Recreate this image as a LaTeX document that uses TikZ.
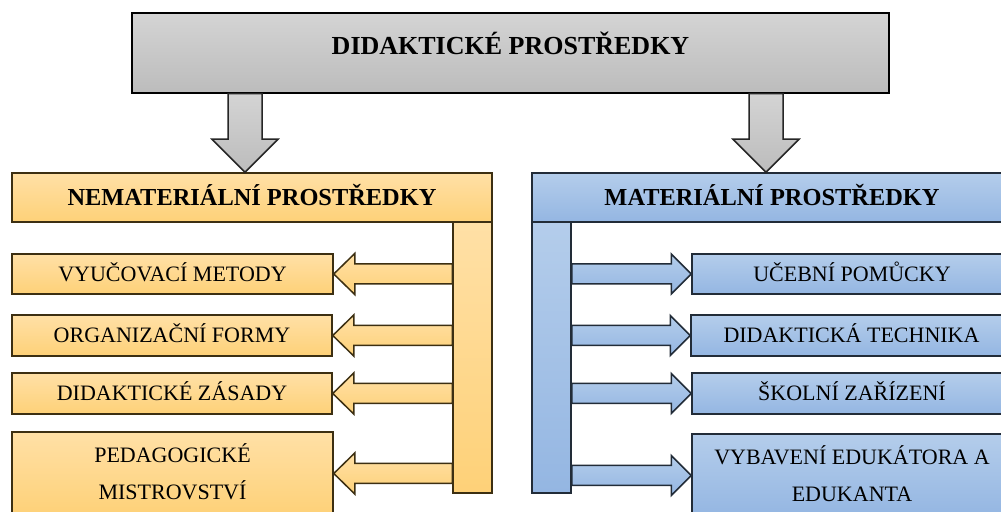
\documentclass[tikz,border=0pt]{standalone}
\usepackage{fontspec}
\setmainfont{Liberation Serif}
\usetikzlibrary{calc}
\definecolor{grayT}{HTML}{D4D4D4}
\definecolor{grayB}{HTML}{BCBCBC}
\definecolor{orT}{HTML}{FFE0A6}
\definecolor{orB}{HTML}{FED178}
\definecolor{blT}{HTML}{B4CDEB}
\definecolor{blB}{HTML}{94B6E2}
\definecolor{orLine}{HTML}{3C2F12}
\definecolor{blLine}{HTML}{222C38}
\tikzset{
  box/.style={rectangle, inner sep=0pt, line width=0.75pt, align=center},
  graybox/.style={box, draw=black, top color=grayT, bottom color=grayB},
  orbox/.style={box, draw=orLine, top color=orT, bottom color=orB},
  blbox/.style={box, draw=blLine, top color=blT, bottom color=blB},
  titlefont/.style={font=\fontsize{13}{15}\selectfont\bfseries, text height=8.6pt, text depth=7pt},
  headfont/.style={font=\fontsize{12.2}{14}\selectfont\bfseries, text height=8.1pt, text depth=0pt},
  itemfont/.style={font=\fontsize{11}{13}\selectfont, text height=7.3pt, text depth=0pt},
  twofont/.style={font=\fontsize{11}{18.5}\selectfont, text height=25.8pt, text depth=0pt},
  orarrow/.style={draw=orLine, line width=0.75pt, top color=orT, bottom color=orB},
  blarrow/.style={draw=blLine, line width=0.75pt, top color=blT, bottom color=blB},
  grarrow/.style={draw=black!85, line width=0.75pt, top color=grayT, bottom color=grayB},
}
% left-pointing block arrow: #1 style, #2 tip, #3 tail
\newcommand\blkleft[3]{%
  \path[#1] let \p1=(#2), \p2=(#3) in
    (\x1,\y1) -- (\x1+10.5pt,\y1+10.25pt) -- (\x1+10.5pt,\y1+5pt) -- (\x2,\y1+5pt)
    -- (\x2,\y1-5pt) -- (\x1+10.5pt,\y1-5pt) -- (\x1+10.5pt,\y1-10.25pt) -- cycle;}
% right-pointing block arrow: #1 style, #2 tip, #3 tail
\newcommand\blkright[3]{%
  \path[#1] let \p1=(#2), \p2=(#3) in
    (\x1,\y1) -- (\x1-10pt,\y1+10pt) -- (\x1-10pt,\y1+5pt) -- (\x2,\y1+5pt)
    -- (\x2,\y1-5pt) -- (\x1-10pt,\y1-5pt) -- (\x1-10pt,\y1-10pt) -- cycle;}
% down-pointing block arrow: #1 tip, #2 tail
\newcommand\blkdown[2]{%
  \path[grarrow] let \p1=(#1), \p2=(#2) in
    (\x1,\y1) -- (\x1-16.5pt,\y1+16.5pt) -- (\x1-8.5pt,\y1+16.5pt) -- (\x1-8.5pt,\y2)
    -- (\x1+8.5pt,\y2) -- (\x1+8.5pt,\y1+16.5pt) -- (\x1+16.5pt,\y1+16.5pt) -- cycle;}
\begin{document}
\begin{tikzpicture}[x=0.5pt,y=-0.5pt]
\useasboundingbox (0,0) rectangle (1001,512);
\clip (0,0) rectangle (1001,512);
\fill[white] (0,0) rectangle (1001,512);

% top
\node[graybox, titlefont, minimum width=378.5pt, minimum height=40pt] (top) at (510.5,53) {DIDAKTICKÉ PROSTŘEDKY};

% bars
\node[orbox, minimum width=19.5pt, minimum height=135.5pt] (barl) at (472.5,357.5) {};
\node[blbox, minimum width=19.5pt, minimum height=135.5pt] (barr) at (551.5,357.5) {};

% headers
\node[orbox, headfont, minimum width=240pt, minimum height=24.5pt] (hl) at (252,197.5) {NEMATERIÁLNÍ PROSTŘEDKY};
\node[blbox, headfont, minimum width=240pt, minimum height=24.5pt] (hr) at (772,197.5) {MATERIÁLNÍ PROSTŘEDKY};

% left items
\node[orbox, itemfont, minimum width=160.5pt, minimum height=20pt] (l1) at (172.5,274) {VYUČOVACÍ METODY};
\node[orbox, itemfont, minimum width=160pt, minimum height=20.5pt] (l2) at (172,335.5) {ORGANIZAČNÍ FORMY};
\node[orbox, itemfont, minimum width=160pt, minimum height=20.5pt] (l3) at (172,393.5) {DIDAKTICKÉ ZÁSADY};
\node[orbox, twofont, minimum width=160.5pt, minimum height=41.5pt] (l4) at (172.5,473.5) {PEDAGOGICKÉ\\MISTROVSTVÍ};

% right items
\node[blbox, itemfont, minimum width=160pt, minimum height=20pt] (r1) at (852,274) {UČEBNÍ POMŮCKY};
\node[blbox, itemfont, minimum width=160.5pt, minimum height=20.5pt] (r2) at (851.5,335.5) {DIDAKTICKÁ TECHNIKA};
\node[blbox, itemfont, minimum width=160pt, minimum height=20.5pt] (r3) at (852,393.5) {ŠKOLNÍ ZAŘÍZENÍ};
\node[blbox, twofont, minimum width=160pt, minimum height=41.5pt] (r4) at (852,475.5) {VYBAVENÍ EDUKÁTORA A\\EDUKANTA};

% down arrows
\coordinate (dl) at (245,0);
\coordinate (dr) at (766,0);
\blkdown{dl |- hl.north}{dl |- top.south}
\blkdown{dr |- hr.north}{dr |- top.south}

% left arrows
\blkleft{orarrow}{l1.east}{barl.west |- l1.east}
\blkleft{orarrow}{l2.east}{barl.west |- l2.east}
\blkleft{orarrow}{l3.east}{barl.west |- l3.east}
\blkleft{orarrow}{l4.east}{barl.west |- l4.east}

% right arrows
\blkright{blarrow}{r1.west}{barr.east |- r1.west}
\blkright{blarrow}{r2.west}{barr.east |- r2.west}
\blkright{blarrow}{r3.west}{barr.east |- r3.west}
\blkright{blarrow}{r4.west}{barr.east |- r4.west}
\end{tikzpicture}
\end{document}
